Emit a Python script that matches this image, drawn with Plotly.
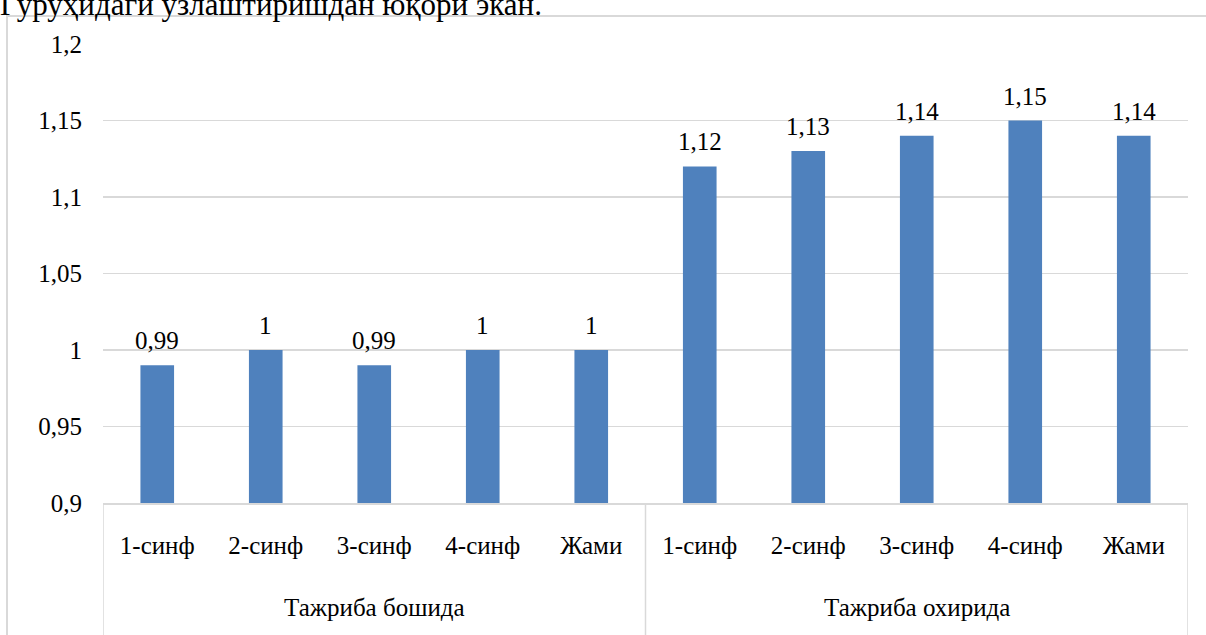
import plotly.graph_objects as go

groups = ["Тажриба бошида", "Тажриба охирида"]
classes = ["1-синф", "2-синф", "3-синф", "4-синф", "Жами"] * 2
values = [0.99, 1.00, 0.99, 1.00, 1.00, 1.12, 1.13, 1.14, 1.15, 1.14]
y_ticks = [0.9, 0.95, 1.0, 1.05, 1.1, 1.15, 1.2]
y_ticktext = ["0,9", "0,95", "1", "1,05", "1,1", "1,15", "1,2"]
heading = "Гуруҳидаги ўзлаштиришдан юқори экан."

FONT = "Liberation Serif"
W, H = 1206, 635
L, R, T, B = 103, 18, 44, 132
PW, PH = W - L - R, H - T - B

labels = [f"{v:g}".replace(".", ",") for v in values]
xpos = list(range(len(values)))
per_group = len(values) // len(groups)

fig = go.Figure(go.Bar(
    x=xpos, y=values,
    marker=dict(color="#4f81bd", line=dict(width=0)),
    width=0.31, hoverinfo="skip",
))

# value labels above bars
for xi, v, lab in zip(xpos, values, labels):
    fig.add_annotation(x=xi, y=v, text=lab, xref="x", yref="y",
                       xanchor="center", yanchor="bottom", yshift=9,
                       showarrow=False,
                       font=dict(family=FONT, size=25, color="#000000"))

fig.update_layout(
    width=W, height=H,
    margin=dict(l=L, r=R, t=T, b=B, autoexpand=False),
    paper_bgcolor="white", plot_bgcolor="white",
    font=dict(family=FONT, size=25, color="#000000"),
    showlegend=False,
    title=dict(text=heading, x=0, xref="container", xanchor="left",
               y=1 - 15 / H, yref="container", yanchor="bottom",
               font=dict(family=FONT, size=31, color="#000000")),
    xaxis=dict(range=[-0.5, len(values) - 0.5], tickvals=xpos, ticktext=classes,
               showline=True, linecolor="#d9d9d9", linewidth=1.5,
               showgrid=False, zeroline=False, ticks="", automargin=False,
               ticklabelstandoff=19, tickfont=dict(family=FONT, size=25)),
    yaxis=dict(range=[0.9, 1.2], tickvals=y_ticks, ticktext=y_ticktext,
               showgrid=True, gridcolor="#d9d9d9", gridwidth=1.5, automargin=False,
               zeroline=False, showline=False, ticks="", ticklabelstandoff=20,
               tickfont=dict(family=FONT, size=25)),
)

# chart frame border
fig.add_shape(type="rect", xref="paper", yref="paper",
              x0=-(L - 7) / PW, x1=1.2, y0=-0.5, y1=1 + (T - 16) / PH,
              line=dict(color="#d9d9d9", width=2), fillcolor="rgba(0,0,0,0)", layer="below")

# group dividers and group labels
for g in range(len(groups) + 1):
    fig.add_shape(type="line", xref="x", yref="paper",
                  x0=g * per_group - 0.5, x1=g * per_group - 0.5, y0=0, y1=-0.3,
                  line=dict(color="#d9d9d9", width=1.5))
for g, name in enumerate(groups):
    fig.add_annotation(text=name, xref="x", yref="paper",
                       x=g * per_group + (per_group - 1) / 2, y=-104 / PH,
                       xanchor="center", yanchor="middle", showarrow=False,
                       font=dict(family=FONT, size=25, color="#000000"))

fig.write_html("out.html", config={"displayModeBar": False, "staticPlot": True},
               post_script="document.body.style.margin='0px';")
